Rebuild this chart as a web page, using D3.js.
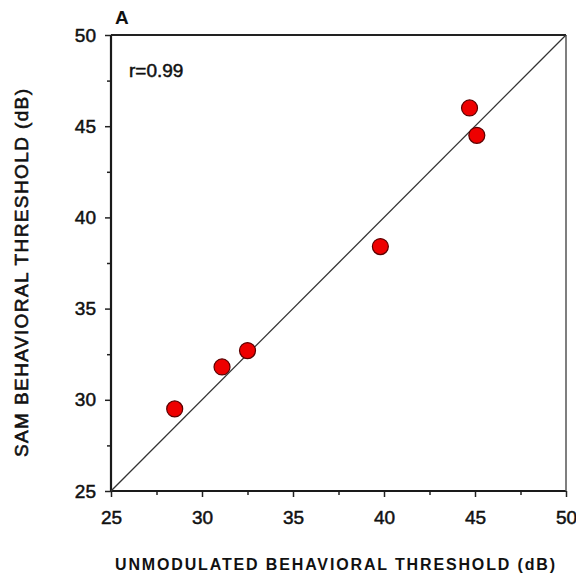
<!DOCTYPE html>
<html>
<head>
<meta charset="utf-8">
<script src="https://cdn.jsdelivr.net/npm/d3@7"></script>
<style>
  body { margin: 0; background: #fff; }
  svg { display: block; font-family: "Liberation Sans", Arial, sans-serif; }
</style>
</head>
<body>
<div id="chart"></div>
<script>
// unmodulated vs SAM thresholds (dB)
const unmodulated = [28.5, 31.1, 32.5, 39.8, 44.7, 45.1];
const sam = [29.5, 31.8, 32.7, 38.4, 46.0, 44.5];
const majorTicks = [25, 30, 35, 40, 45, 50];
const minorTicks = [27.5, 32.5, 37.5, 42.5, 47.5];
const panelLabel = "A";
const rLabel = "r=0.99";
const xTitle = "UNMODULATED BEHAVIORAL THRESHOLD (dB)";
const yTitle = "SAM BEHAVIORAL THRESHOLD (dB)";

const width = 576, height = 575;
const margin = {top: 35, right: 10, bottom: 84, left: 111};
const w = 566 - margin.left, h = 491 - margin.top;

const svg = d3.select("#chart").append("svg")
    .attr("width", width)
    .attr("height", height);

const g = svg.append("g")
    .attr("transform", "translate(" + margin.left + "," + margin.top + ")");

const x = d3.scaleLinear().domain([25, 50]).range([0, w]);
const y = d3.scaleLinear().domain([25, 50]).range([h, 0]);

// minor ticks
g.append("g")
    .attr("transform", "translate(0," + h + ")")
    .call(d3.axisBottom(x).tickValues(minorTicks).tickSize(4).tickFormat(""))
    .call(s => s.select(".domain").remove());
g.append("g")
    .call(d3.axisLeft(y).tickValues(minorTicks).tickSize(4).tickFormat(""))
    .call(s => s.select(".domain").remove());

const xAxis = g.append("g")
    .attr("transform", "translate(0," + h + ")")
    .call(d3.axisBottom(x).tickValues(majorTicks).tickSize(6).tickSizeOuter(0).tickPadding(14));
const yAxis = g.append("g")
    .call(d3.axisLeft(y).tickValues(majorTicks).tickSize(6).tickSizeOuter(0).tickPadding(9));

[xAxis, yAxis].forEach(a => {
    a.select(".domain").remove();
    a.selectAll("text")
        .attr("font-size", 19)
        .attr("fill", "#111")
        .attr("stroke", "#111")
        .attr("stroke-width", 0.5)
        .attr("font-family", "Liberation Sans, Arial, sans-serif");
});
g.selectAll(".tick line").attr("stroke", "#222").attr("stroke-width", 1.5);

// frame: left and bottom heavy, top dark, right lighter
g.append("line").attr("x1", 0).attr("x2", 0).attr("y1", 0).attr("y2", h)
    .attr("stroke", "#1a1a1a").attr("stroke-width", 2.2);
g.append("line").attr("x1", 0).attr("x2", w).attr("y1", h).attr("y2", h)
    .attr("stroke", "#1a1a1a").attr("stroke-width", 2.2);
g.append("line").attr("x1", 0).attr("x2", w).attr("y1", 0).attr("y2", 0)
    .attr("stroke", "#222").attr("stroke-width", 2);
g.append("line").attr("x1", w).attr("x2", w).attr("y1", 0).attr("y2", h)
    .attr("stroke", "#555").attr("stroke-width", 1.5);

// identity line
g.append("line")
    .attr("x1", x(25)).attr("y1", y(25))
    .attr("x2", x(50)).attr("y2", y(50))
    .attr("stroke", "#333").attr("stroke-width", 1.3);

g.selectAll("circle")
    .data(unmodulated)
    .enter().append("circle")
    .attr("cx", d => x(d))
    .attr("cy", (d, i) => y(sam[i]))
    .attr("r", 8)
    .attr("fill", "#ee0000")
    .attr("stroke", "#5a0000")
    .attr("stroke-width", 1.2);

g.append("text")
    .attr("x", 18)
    .attr("y", 42)
    .attr("font-size", 19)
    .attr("fill", "#111")
    .attr("stroke", "#111")
    .attr("stroke-width", 0.5)
    .text(rLabel);

svg.append("text")
    .attr("x", 115)
    .attr("y", 24)
    .attr("font-size", 19)
    .attr("font-weight", "bold")
    .attr("fill", "#111")
    .text(panelLabel);

svg.append("text")
    .attr("x", 115)
    .attr("y", 570)
    .attr("font-size", 16)
    .attr("font-weight", "bold")
    .attr("textLength", 440)
    .attr("lengthAdjust", "spacing")
    .attr("fill", "#111")
    .text(xTitle);

svg.append("text")
    .attr("transform", "translate(28,457) rotate(-90)")
    .attr("font-size", 19)
    .attr("textLength", 368)
    .attr("lengthAdjust", "spacing")
    .attr("fill", "#111")
    .attr("stroke", "#111")
    .attr("stroke-width", 0.6)
    .text(yTitle);
</script>
</body>
</html>
